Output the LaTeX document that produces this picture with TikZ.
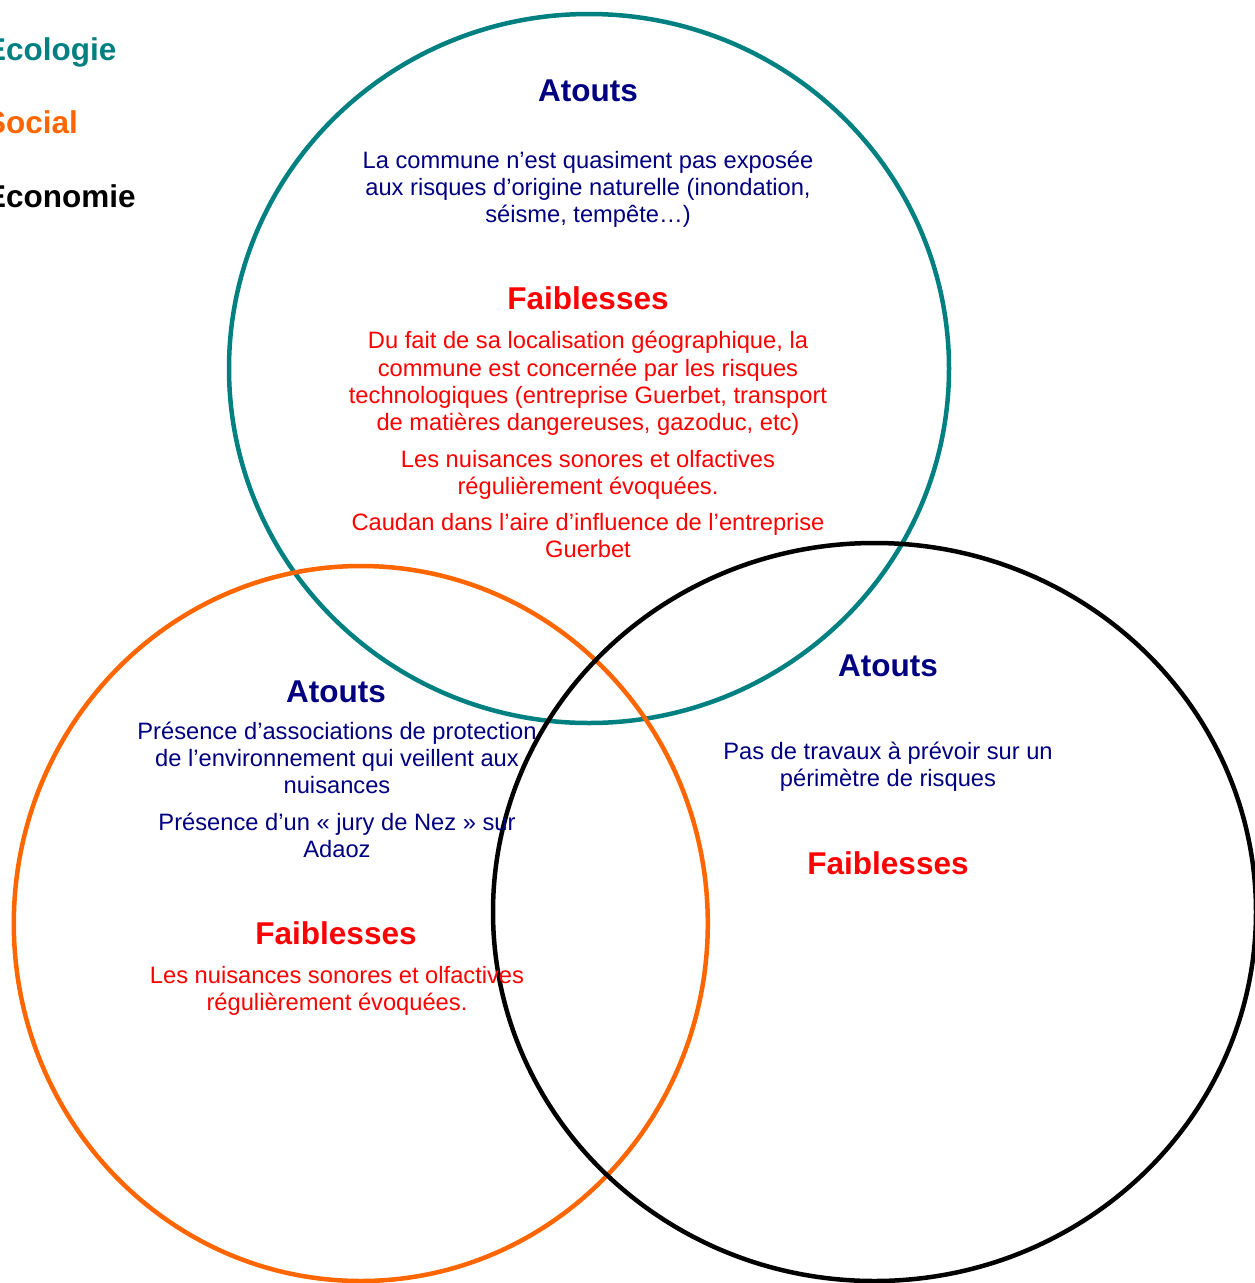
\documentclass[tikz,border=0pt]{standalone}
\usepackage{fontspec}
\setmainfont{Liberation Sans}
\usepackage{tikz}
\definecolor{ecoteal}{HTML}{008080}
\definecolor{socorange}{HTML}{FF6600}
\definecolor{atoutblue}{HTML}{000080}
\definecolor{faibred}{HTML}{FF0000}

\begin{document}
\begin{tikzpicture}[x=1pt,y=-1pt,
  venn/.style={line width=4.5pt},
  title/.style={font=\fontsize{31.5}{36}\selectfont\bfseries,anchor=base,inner sep=0pt},
  atout/.style={title,text=atoutblue},
  faib/.style={title,text=faibred},
  para/.style={font=\fontsize{23.7}{27.2}\selectfont,align=center,inner sep=0pt},
  plus/.style={para,text=atoutblue},
  moins/.style={para,text=faibred},
  legend/.style={font=\fontsize{31.5}{36}\selectfont\bfseries,anchor=base west,inner sep=0pt}]
\useasboundingbox (0,0) rectangle (1255,1283);
\draw[venn,ecoteal] (589,368.5) ellipse [x radius=360pt,y radius=354.5pt];
\draw[venn,socorange] (360.8,923.5) ellipse [x radius=347pt,y radius=357.5pt];
\draw[venn,black] (874.5,912) ellipse [x radius=381.5pt,y radius=369pt];
\draw (-15,60) node (leco) [legend,text=ecoteal] {Ecologie};
\draw (-15,133) node (lsoc) [legend,text=socorange] {Social};
\draw (-15,207) node (leco2) [legend,text=black] {Economie};
\draw (588,101) node (ecoatout) [atout] {Atouts};
\draw (588,189) node (ecoatout1) [plus] {La commune n’est quasiment pas exposée\\aux risques d’origine naturelle (inondation,\\séisme, tempête…)};
\draw (588,309) node (ecofaib) [faib] {Faiblesses};
\draw (588,383.5) node (ecofaib1) [moins] {Du fait de sa localisation géographique, la\\commune est concernée par les risques\\technologiques (entreprise Guerbet, transport\\de matières dangereuses, gazoduc, etc)};
\draw (588,474.5) node (ecofaib2) [moins] {Les nuisances sonores et olfactives\\régulièrement évoquées.};
\draw (588,535.5) node (ecofaib3) [moins] {Caudan dans l’aire d’influence de l’entreprise\\Guerbet};
\draw (336,702) node (socatout) [atout] {Atouts};
\draw (337,758) node (socatout1) [plus] {Présence d’associations de protection\\de l’environnement qui veillent aux\\nuisances};
\draw (337,835.5) node (socatout2) [plus] {Présence d’un « jury de Nez » sur\\Adaoz};
\draw (336,944) node (socfaib) [faib] {Faiblesses};
\draw (337,990.5) node (socfaib1) [moins] {Les nuisances sonores et olfactives\\régulièrement évoquées.};
\draw (888,676) node (econatout) [atout] {Atouts};
\draw (888,766.5) node (econatout1) [plus] {Pas de travaux à prévoir sur un\\périmètre de risques};
\draw (888,874) node (econfaib) [faib] {Faiblesses};
\end{tikzpicture}
\end{document}
